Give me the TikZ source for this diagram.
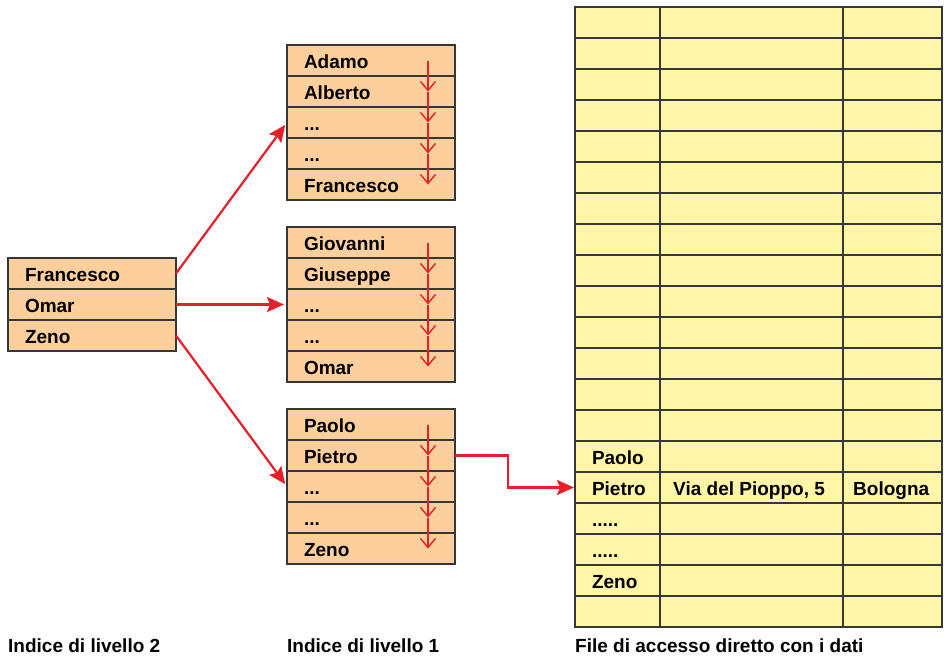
\documentclass[tikz,border=0pt]{standalone}
\usepackage{fontspec}
\setmainfont{Liberation Sans}
\usetikzlibrary{positioning, arrows.meta}
\definecolor{peach}{RGB}{253,207,156}
\definecolor{paleyellow}{RGB}{255,246,168}
\definecolor{linkred}{RGB}{232,30,40}
\definecolor{edgegray}{RGB}{55,55,55}
\tikzstyle{record} = [rectangle, draw=edgegray, fill=peach, line width=1.3pt, outer sep=0pt, minimum height=31pt, inner xsep=17pt, text width=134pt, align=left, text height=15pt, text depth=0pt]
\tikzstyle{cell} = [rectangle, outer sep=0pt, minimum height=31pt, inner xsep=17pt, text width=51pt, align=left, text height=15pt, text depth=0pt]
\tikzstyle{value} = [inner sep=0pt, text height=15pt, text depth=0pt]
\tikzstyle{grid} = [draw=edgegray, line width=1.3pt]
\tikzstyle{link} = [draw=linkred, line width=2.2pt, -{Stealth[length=17pt, width=15pt, inset=3pt]}, shorten >=3pt]
\tikzstyle{scan} = [draw=linkred, line width=1.4pt, -{Straight Barb[length=9pt, width=15pt]}]

\begin{document}
\begin{tikzpicture}[x=1pt, y=-1pt, font=\fontsize{19}{22}\selectfont\bfseries]
        \useasboundingbox (0,0) rectangle (944,659);

        % Indice di livello 2
        \node (l1) [record, anchor=north west] at (8,258) {Francesco};
        \node (l2) [record, below=0pt of l1] {Omar};
        \node (l3) [record, below=0pt of l2] {Zeno};

        % Indice di livello 1
        \node (a1) [record, anchor=north west] at (287,45) {Adamo};
        \node (a2) [record, below=0pt of a1] {Alberto};
        \node (a3) [record, below=0pt of a2] {...};
        \node (a4) [record, below=0pt of a3] {...};
        \node (a5) [record, below=0pt of a4] {Francesco};

        \node (b1) [record, anchor=north west] at (287,227) {Giovanni};
        \node (b2) [record, below=0pt of b1] {Giuseppe};
        \node (b3) [record, below=0pt of b2] {...};
        \node (b4) [record, below=0pt of b3] {...};
        \node (b5) [record, below=0pt of b4] {Omar};

        \node (c1) [record, anchor=north west] at (287,409) {Paolo};
        \node (c2) [record, below=0pt of c1] {Pietro};
        \node (c3) [record, below=0pt of c2] {...};
        \node (c4) [record, below=0pt of c3] {...};
        \node (c5) [record, below=0pt of c4] {Zeno};

        % scansione sequenziale
        \foreach \g in {a,b,c}
            \foreach \i/\j in {1/2,2/3,3/4,4/5}
                \draw [scan] ([xshift=-27pt]\g\i.east) -- ([xshift=-27pt]\g\j.east);

        % File di accesso diretto
        \fill [paleyellow] (575,7) rectangle (942,627);
        \foreach \r in {1,...,19}
            \draw [grid] (575,{7+31*\r}) -- (942,{7+31*\r});
        \draw [grid] (660,7) -- (660,627);
        \draw [grid] (843,7) -- (843,627);
        \draw [grid] (575,7) rectangle (942,627);

        \node (paolo) [cell, anchor=north west] at (575,441) {Paolo};
        \node (pietro) [cell, below=0pt of paolo] {Pietro};
        \node (dots1) [cell, below=0pt of pietro] {.....};
        \node (dots2) [cell, below=0pt of dots1] {.....};
        \node (zeno) [cell, below=0pt of dots2] {Zeno};
        \node (via) [value, right=13pt of pietro] {Via del Pioppo, 5};
        \node (city) [value, anchor=west] at (853,488) {Bologna};

        % Didascalie
        \node (cap2) [value, anchor=west] at (8,645) {Indice di livello 2};
        \node (cap1) [value, anchor=west] at (287,645) {Indice di livello 1};
        \node (capf) [value, anchor=west] at (575,645) {File di accesso diretto con i dati};

        % Collegamenti
        \draw [link] (l1.east) -- (a3.west);
        \draw [link] (l2.east) -- (b3.west);
        \draw [link] (l3.east) -- (c3.west);
        \draw [link, shorten >=1pt] (c2.east) -- ++(53,0) |- (pietro.west);

    \end{tikzpicture}
\end{document}
